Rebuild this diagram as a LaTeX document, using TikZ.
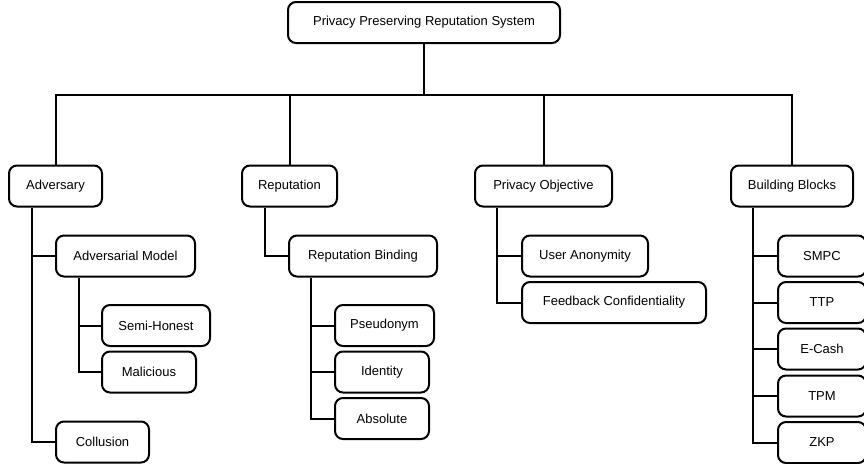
\documentclass[tikz,border=0pt]{standalone}
\usepackage{fontspec}
\setmainfont{Liberation Sans}
\begin{document}
\begin{tikzpicture}[x=1pt,y=-1pt,
  box/.style={draw, line width=2pt, rounded corners=8pt, minimum height=41pt, inner sep=0pt, font=\fontsize{13}{15}\selectfont},
  wire/.style={line width=2pt}]
\useasboundingbox (0,0) rectangle (864,463);
\node[box, minimum width=272pt] (root) at (424,22.5) {Privacy Preserving Reputation System};
\node[box, minimum width=93pt] (adv) at (55.5,186) {Adversary};
\node[box, minimum width=139pt] (am) at (125.5,256) {Adversarial Model};
\node[box, minimum width=108pt] (sh) at (156,325.5) {Semi-Honest};
\node[box, minimum width=94pt] (mal) at (149,372) {Malicious};
\node[box, minimum width=93pt] (col) at (102.5,442) {Collusion};
\node[box, minimum width=95pt] (rep) at (289.5,186) {Reputation};
\node[box, minimum width=148pt] (rb) at (363,256) {Reputation Binding};
\node[box, minimum width=99pt] (ps) at (384.5,325.5) {Pseudonym};
\node[box, minimum width=94pt] (id) at (382,372) {Identity};
\node[box, minimum width=94pt] (ab) at (382,418.5) {Absolute};
\node[box, minimum width=137pt] (po) at (543.5,186) {Privacy Objective};
\node[box, minimum width=126pt] (ua) at (585,256) {User Anonymity};
\node[box, minimum width=184pt] (fc) at (614,302.5) {Feedback Confidentiality};
\node[box, minimum width=122pt] (bb) at (792,186) {Building Blocks};
\node[box, minimum width=88pt] (smpc) at (822,256) {SMPC};
\node[box, minimum width=88pt] (ttp) at (822,302.5) {TTP};
\node[box, minimum width=88pt] (ecash) at (822,349) {E-Cash};
\node[box, minimum width=88pt] (tpm) at (822,396) {TPM};
\node[box, minimum width=88pt] (zkp) at (822,442.5) {ZKP};
\coordinate (bus) at (0,95);
\draw[wire] (root.south) -- (root.south |- bus);
\draw[wire] (adv.north) -- (adv.north |- bus) -- (bb.north |- bus) -- (bb.north);
\draw[wire] (rep.north) -- (rep.north |- bus);
\draw[wire] (po.north) -- (po.north |- bus);
% adversary
\coordinate (advs) at ([xshift=24pt]adv.south west);
\draw[wire] (advs) |- (col.west);
\draw[wire] (advs |- am.west) -- (am.west);
\coordinate (ams) at ([xshift=24pt]am.south west);
\draw[wire] (ams) |- (mal.west);
\draw[wire] (ams |- sh.west) -- (sh.west);
% reputation
\coordinate (reps) at ([xshift=24pt]rep.south west);
\draw[wire] (reps) |- (rb.west);
\coordinate (rbs) at ([xshift=23pt]rb.south west);
\draw[wire] (rbs) |- (ab.west);
\draw[wire] (rbs |- ps.west) -- (ps.west);
\draw[wire] (rbs |- id.west) -- (id.west);
% privacy objective
\coordinate (pos) at ([xshift=23pt]po.south west);
\draw[wire] (pos) |- (fc.west);
\draw[wire] (pos |- ua.west) -- (ua.west);
% building blocks
\coordinate (bbs) at ([xshift=23pt]bb.south west);
\draw[wire] (bbs) |- (zkp.west);
\draw[wire] (bbs |- smpc.west) -- (smpc.west);
\draw[wire] (bbs |- ttp.west) -- (ttp.west);
\draw[wire] (bbs |- ecash.west) -- (ecash.west);
\draw[wire] (bbs |- tpm.west) -- (tpm.west);
\end{tikzpicture}
\end{document}
